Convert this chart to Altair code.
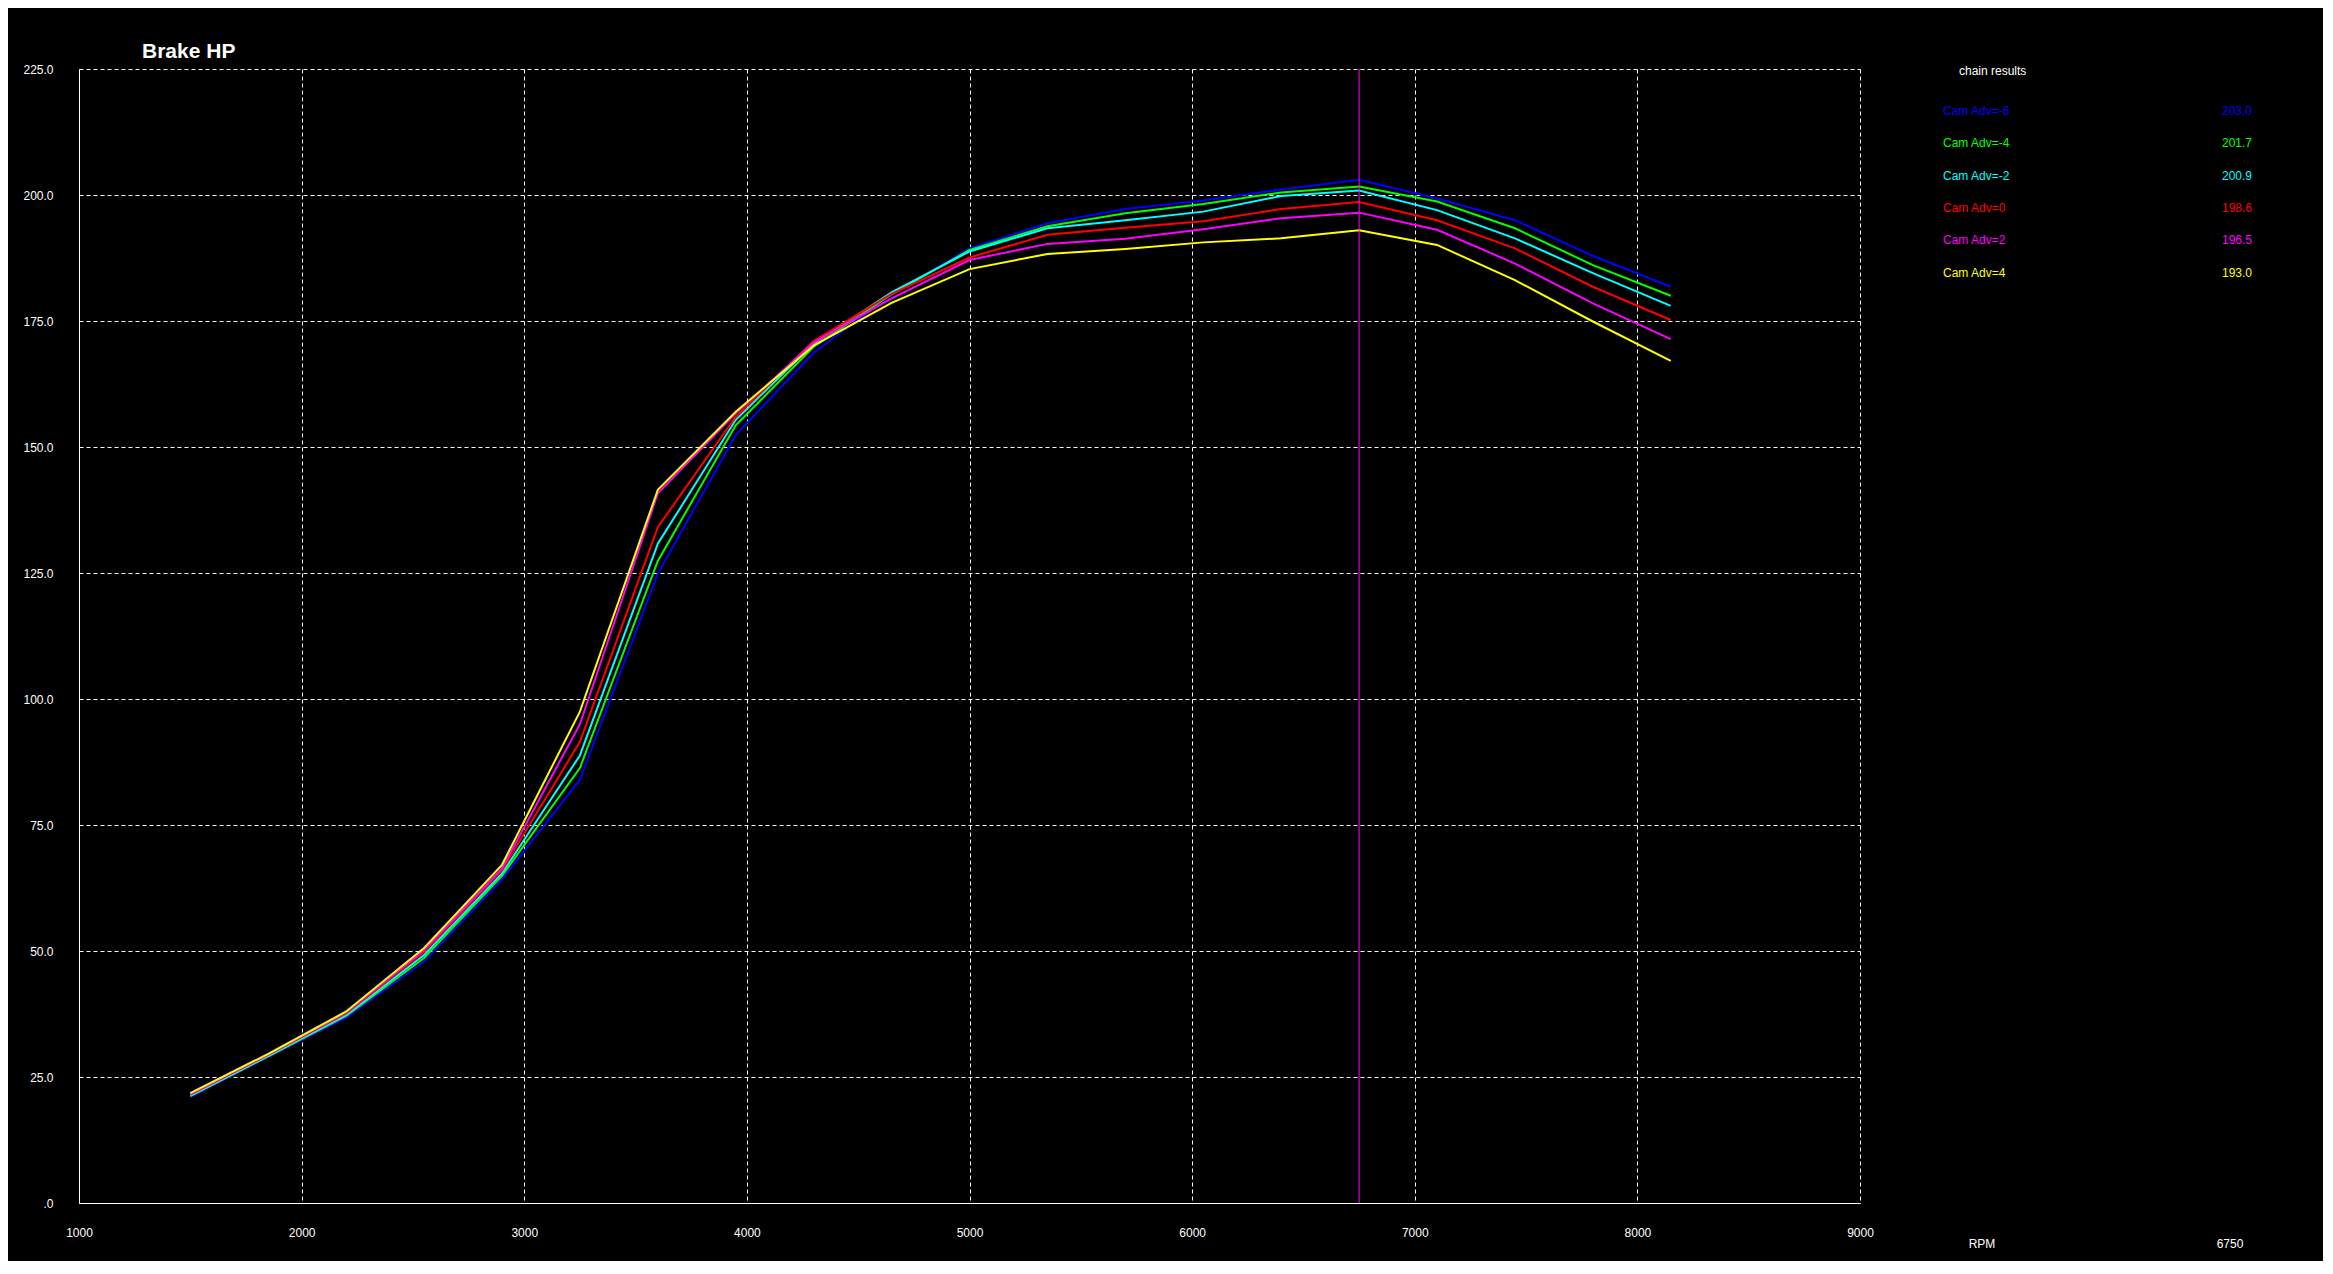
import altair as alt
import pandas as pd

# ---- data ----
rpm = [1500, 1850, 2200, 2550, 2900, 3250, 3600, 3950, 4300, 4650,
       5000, 5350, 5700, 6050, 6400, 6750, 7100, 7450, 7800, 8150]

names = ["Cam Adv=-6", "Cam Adv=-4", "Cam Adv=-2", "Cam Adv=0", "Cam Adv=2", "Cam Adv=4"]
colors = ["#0000FF", "#00FF00", "#00FFFF", "#FF0000", "#FF00FF", "#FFFF00"]

hp_m6 = [21.0, 29.0, 36.8, 47.9, 64.2, 84.0, 124.9, 152.4, 168.7, 180.2,
         189.4, 194.4, 197.2, 198.9, 201.1, 203.0, 199.3, 195.0, 187.9, 181.8]
hp_m4 = [21.2, 29.1, 37.1, 48.6, 64.9, 86.3, 127.4, 154.3, 169.9, 180.3,
         189.1, 193.8, 196.4, 198.2, 200.5, 201.7, 198.7, 193.4, 186.1, 180.0]
hp_m2 = [21.3, 29.2, 37.3, 49.2, 65.4, 88.8, 130.8, 155.4, 170.5, 180.7,
         188.8, 193.4, 195.0, 196.7, 199.8, 200.9, 197.0, 191.4, 184.5, 178.0]
hp_0 = [21.5, 29.4, 37.6, 49.8, 66.0, 91.5, 134.1, 156.0, 171.0, 180.4,
        187.6, 192.1, 193.5, 194.8, 197.2, 198.6, 195.0, 189.4, 181.8, 175.2]
hp_p2 = [21.6, 29.5, 37.8, 50.2, 66.4, 95.0, 140.8, 156.7, 170.7, 179.5,
         187.1, 190.3, 191.3, 193.2, 195.4, 196.5, 193.1, 186.4, 178.5, 171.4]
hp_p4 = [21.8, 29.6, 38.0, 50.6, 67.1, 97.5, 141.5, 157.0, 170.1, 178.6,
         185.3, 188.3, 189.3, 190.6, 191.4, 193.0, 190.1, 183.1, 174.9, 167.1]

series_values = [hp_m6, hp_m4, hp_m2, hp_0, hp_p2, hp_p4]

cursor_rpm = 6750
chart_title = "Brake HP"
legend_title = "chain results"
x_label = "RPM"

x_ticks = list(range(1000, 9001, 1000))
y_ticks = list(range(0, 226, 25))

FONT = "Liberation Sans"

# ---- long table ----
rows = []
for n, vals in zip(names, series_values):
    for r, v in zip(rpm, vals):
        rows.append({"rpm": r, "hp": v, "series": n})
df = pd.DataFrame(rows)

color_scale = alt.Scale(domain=names, range=colors)

lines = alt.Chart(df).mark_line(strokeWidth=2).encode(
    x=alt.X("rpm:Q",
            scale=alt.Scale(domain=[1000, 9000], nice=False, zero=False),
            axis=alt.Axis(values=x_ticks, format="d", title=None,
                          grid=True, gridColor="white", gridDash=[4, 3], gridOpacity=1, gridWidth=1,
                          domainColor="white", domainWidth=1, ticks=False, tickSize=0,
                          labelColor="white", labelFont=FONT, labelFontSize=12,
                          labelPadding=24, labelFlush=False, labelOverlap=False)),
    y=alt.Y("hp:Q",
            scale=alt.Scale(domain=[0, 225], nice=False),
            axis=alt.Axis(values=y_ticks, title=None,
                          labelExpr="datum.value == 0 ? '.0' : format(datum.value, '.1f')",
                          grid=True, gridColor="white", gridDash=[4, 3], gridOpacity=1, gridWidth=1,
                          domainColor="white", domainWidth=1, ticks=False, tickSize=0,
                          labelColor="white", labelFont=FONT, labelFontSize=12,
                          labelPadding=26, labelFlush=False, labelOverlap=False)),
    color=alt.Color("series:N", scale=color_scale, legend=None),
    order=alt.Order("rpm:Q"),
)

cursor = alt.Chart(pd.DataFrame({"rpm": [cursor_rpm]})).mark_rule(
    color="#FF00FF", strokeWidth=1).encode(x="rpm:Q")

title_txt = alt.Chart(pd.DataFrame({"t": [chart_title]})).mark_text(
    align="left", baseline="alphabetic", font=FONT, fontSize=21, fontWeight="bold",
    color="white").encode(x=alt.value(63), y=alt.value(-11), text="t:N")

leg_title = alt.Chart(pd.DataFrame({"t": [legend_title]})).mark_text(
    align="left", baseline="middle", font=FONT, fontSize=12, color="white"
).encode(x=alt.value(1880), y=alt.value(2), text="t:N")

layers = [lines, cursor, title_txt, leg_title]

idx = rpm.index(cursor_rpm)
for i, (n, c, vals) in enumerate(zip(names, colors, series_values)):
    yy = 42 + 32.3 * i
    d = pd.DataFrame({"name": [n], "val": [f"{vals[idx]:.1f}"]})
    layers.append(alt.Chart(d).mark_text(
        align="left", baseline="middle", font=FONT, fontSize=12, color=c
    ).encode(x=alt.value(1864), y=alt.value(yy), text="name:N"))
    layers.append(alt.Chart(d).mark_text(
        align="right", baseline="middle", font=FONT, fontSize=12, color=c
    ).encode(x=alt.value(2173), y=alt.value(yy), text="val:N"))

layers.append(alt.Chart(pd.DataFrame({"t": [x_label]})).mark_text(
    align="center", baseline="middle", font=FONT, fontSize=12, color="white"
).encode(x=alt.value(1903), y=alt.value(1175), text="t:N"))
layers.append(alt.Chart(pd.DataFrame({"t": [str(cursor_rpm)]})).mark_text(
    align="center", baseline="middle", font=FONT, fontSize=12, color="white"
).encode(x=alt.value(2151), y=alt.value(1175), text="t:N"))

chart = alt.layer(*layers).properties(
    width=1781, height=1134,
    autosize="none",
    padding={"left": 71, "top": 61, "right": 463, "bottom": 58},
    background="black",
).configure_view(stroke=None)

chart.save("out.html", embed_options={"renderer": "svg", "actions": False})
